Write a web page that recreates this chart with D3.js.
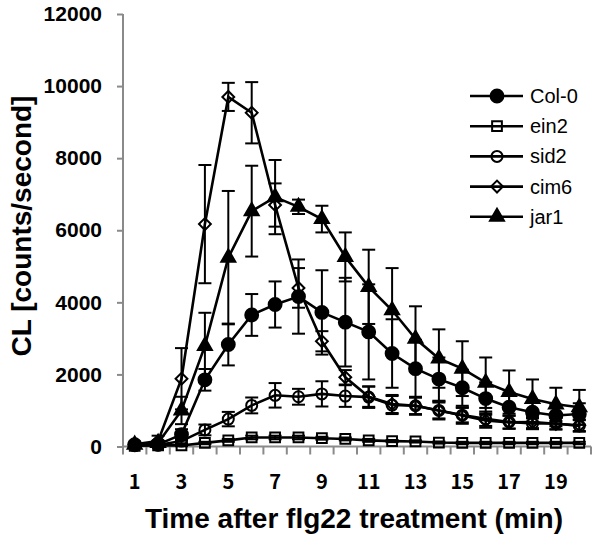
<!DOCTYPE html>
<html><head><meta charset="utf-8">
<script src="https://cdn.jsdelivr.net/npm/d3@7"></script>
<style>body{margin:0;background:#fff}svg{display:block}</style>
</head><body>
<script>
const minutes = d3.range(1, 21);
const xTickLabels = ["1","3","5","7","9","11","13","15","17","19"];
const yTicks = [0, 2000, 4000, 6000, 8000, 10000, 12000];
const seriesNames = ["Col-0", "ein2", "sid2", "cim6", "jar1"];
const col0 = [50, 60, 330, 1850, 2830, 3650, 3940, 4160, 3720, 3450, 3180, 2580, 2160, 1870, 1630, 1330, 1090, 950, 860, 900];
const col0Err = [30, 40, 150, 300, 580, 580, 640, 1030, 1170, 1230, 1320, 950, 800, 600, 500, 450, 400, 300, 300, 300];
const ein2 = [20, 30, 30, 100, 170, 250, 250, 250, 230, 210, 170, 150, 140, 110, 100, 100, 100, 100, 100, 100];
const ein2Err = [10, 10, 20, 30, 40, 50, 50, 50, 40, 40, 40, 30, 30, 30, 30, 30, 30, 30, 30, 30];
const sid2 = [30, 40, 150, 460, 760, 1140, 1420, 1380, 1460, 1400, 1370, 1150, 1130, 1000, 870, 770, 680, 640, 640, 570];
const sid2Err = [20, 30, 60, 150, 200, 220, 340, 220, 350, 300, 300, 250, 230, 220, 200, 200, 180, 160, 160, 160];
const cim6 = [60, 150, 1880, 6170, 9700, 9260, 6700, 4400, 2920, 1920, 1380, 1180, 1130, 1000, 860, 720, 670, 680, 630, 590];
const cim6Err = [40, 150, 850, 1640, 390, 850, 600, 550, 280, 200, 280, 250, 250, 250, 230, 200, 180, 170, 160, 160];
const jar1 = [50, 100, 1000, 2790, 5240, 6530, 6920, 6650, 6310, 5260, 4430, 3780, 2990, 2440, 2160, 1770, 1510, 1320, 1170, 1090];
const jar1Err = [30, 60, 380, 920, 1850, 1260, 1030, 200, 370, 680, 1030, 1170, 900, 810, 760, 700, 600, 540, 460, 480];

const W = 598, H = 542;
const svg = d3.select("body").append("svg").attr("width", W).attr("height", H);

const x = d3.scaleBand().domain(minutes).range([123, 591]);
const y = d3.scaleLinear().domain([0, 12000]).range([446.5, 14]);

const seriesDefs = [
  {name: seriesNames[0], v: col0, e: col0Err, shape: "circle", fill: "#000", size: 130},
  {name: seriesNames[1], v: ein2, e: ein2Err, shape: "square", fill: "none", size: 95},
  {name: seriesNames[2], v: sid2, e: sid2Err, shape: "circle", fill: "none", size: 95},
  {name: seriesNames[3], v: cim6, e: cim6Err, shape: "diamond", fill: "none", size: 70},
  {name: seriesNames[4], v: jar1, e: jar1Err, shape: "triangle", fill: "#000", size: 85}
];
function symPath(shape, size) {
  const t = {circle: d3.symbolCircle, square: d3.symbolSquare, diamond: d3.symbolSquare, triangle: d3.symbolTriangle}[shape];
  return d3.symbol().type(t).size(size)();
}
const cx = m => x(m) + x.bandwidth() / 2;

// axes
const axisColor = "#8a8a8a";
const yAxis = svg.append("g").attr("transform", "translate(123,0)")
  .call(d3.axisLeft(y).tickValues(yTicks).tickSize(6).tickPadding(15).tickFormat(d3.format("d")));
yAxis.select(".domain").attr("stroke", axisColor).attr("stroke-width", 2).attr("d", `M0,${y(12000)}V${y(0)}`);
yAxis.selectAll(".tick line").attr("stroke", axisColor).attr("stroke-width", 2);
yAxis.selectAll(".tick text").attr("font-family", "Liberation Sans, Arial, sans-serif")
  .attr("font-weight", "bold").attr("font-size", 21).attr("fill", "#000");

const xg = svg.append("g").attr("transform", `translate(0,${y(0)})`);
xg.append("line").attr("x1", 123).attr("x2", 591).attr("stroke", axisColor).attr("stroke-width", 2);
const bounds = minutes.map(m => x(m)).concat([x(20) + x.bandwidth()]);
xg.selectAll("line.tk").data(bounds).join("line").attr("class", "tk")
  .attr("x1", d => d).attr("x2", d => d).attr("y1", 0).attr("y2", 8)
  .attr("stroke", axisColor).attr("stroke-width", 2);
xg.selectAll("text").data(xTickLabels).join("text")
  .attr("x", d => cx(+d)).attr("y", 42).attr("text-anchor", "middle")
  .attr("font-family", "Noto Sans CJK KR, sans-serif").attr("font-weight", "bold")
  .attr("font-size", 20).text(d => d);

// series
const line = d3.line().x((d, i) => cx(minutes[i])).y(d => y(d));
seriesDefs.forEach(s => {
  const g = svg.append("g");
  g.append("path").attr("d", line(s.v)).attr("fill", "none").attr("stroke", "#000").attr("stroke-width", 2.6);
  const eb = g.selectAll("g.eb").data(s.v).join("g").attr("class", "eb");
  eb.append("line").attr("x1", (d, i) => cx(minutes[i])).attr("x2", (d, i) => cx(minutes[i]))
    .attr("y1", (d, i) => y(d + s.e[i])).attr("y2", (d, i) => y(Math.max(0, d - s.e[i])))
    .attr("stroke", "#000").attr("stroke-width", 2);
  [1, -1].forEach(sg => {
    eb.append("line").attr("x1", (d, i) => cx(minutes[i]) - 6.5).attr("x2", (d, i) => cx(minutes[i]) + 6.5)
      .attr("y1", (d, i) => y(Math.max(0, d + sg * s.e[i]))).attr("y2", (d, i) => y(Math.max(0, d + sg * s.e[i])))
      .attr("stroke", "#000").attr("stroke-width", 2);
  });
  g.selectAll("path.mk").data(s.v).join("path").attr("class", "mk")
    .attr("d", symPath(s.shape, s.size))
    .attr("transform", (d, i) => `translate(${cx(minutes[i])},${y(d)})` + (s.shape === "diamond" ? " rotate(45)" : ""))
    .attr("fill", s.fill).attr("stroke", "#000").attr("stroke-width", 2);
});

// legend
const lg = svg.append("g");
seriesDefs.forEach((s, i) => {
  const ly = 96 + i * 30.2;
  lg.append("line").attr("x1", 470).attr("x2", 523).attr("y1", ly).attr("y2", ly).attr("stroke", "#000").attr("stroke-width", 2.6);
  lg.append("path").attr("d", symPath(s.shape, s.size))
    .attr("transform", `translate(497,${ly})` + (s.shape === "diamond" ? " rotate(45)" : ""))
    .attr("fill", s.fill).attr("stroke", "#000").attr("stroke-width", 2);
  lg.append("text").attr("x", 530).attr("y", ly + 7).attr("font-family", "Liberation Sans, Arial, sans-serif")
    .attr("font-size", 20).text(s.name);
});

// titles
svg.append("text").attr("x", 354).attr("y", 528).attr("text-anchor", "middle")
  .attr("font-family", "Liberation Sans, Arial, sans-serif").attr("font-weight", "bold").attr("font-size", 28)
  .text("Time after flg22 treatment (min)");
svg.append("text").attr("transform", "translate(31,226) rotate(-90)").attr("text-anchor", "middle")
  .attr("font-family", "Liberation Sans, Arial, sans-serif").attr("font-weight", "bold").attr("font-size", 28)
  .text("CL [counts/second]");
</script>
</body></html>
